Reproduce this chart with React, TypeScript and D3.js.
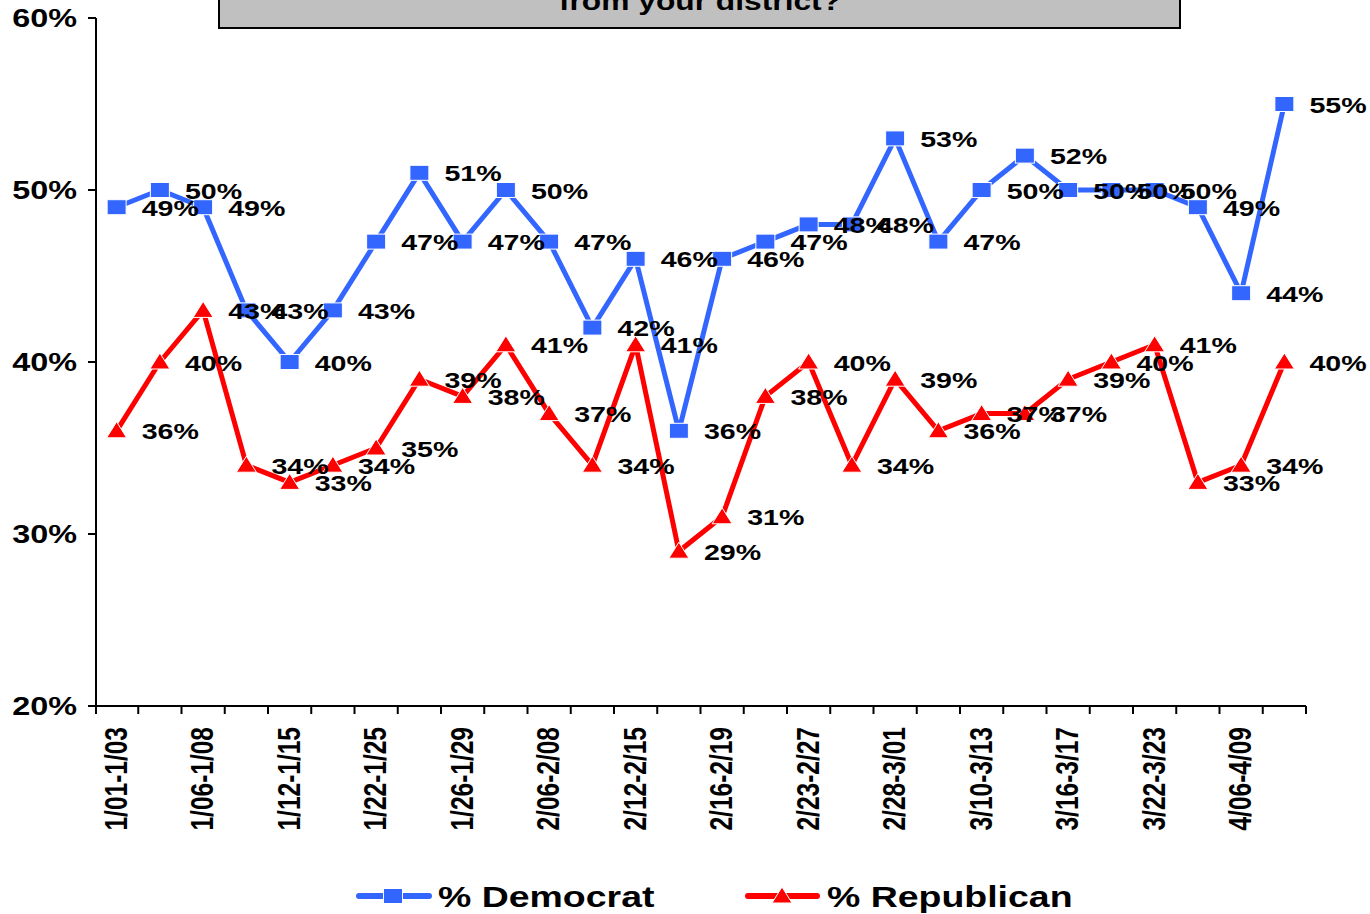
import React from 'react';
import * as d3 from 'd3';

const tickLabels = ["1/01-1/03", "1/06-1/08", "1/12-1/15", "1/22-1/25", "1/26-1/29", "2/06-2/08", "2/12-2/15", "2/16-2/19", "2/23-2/27", "2/28-3/01", "3/10-3/13", "3/16-3/17", "3/22-3/23", "4/06-4/09"];
const democrat = [49, 50, 49, 43, 40, 43, 47, 51, 47, 50, 47, 42, 46, 36, 46, 47, 48, 48, 53, 47, 50, 52, 50, 50, 50, 49, 44, 55];
const republican = [36, 40, 43, 34, 33, 34, 35, 39, 38, 41, 37, 34, 41, 29, 31, 38, 40, 34, 39, 36, 37, 37, 39, 40, 41, 33, 34, 40];
const yTicks = [20, 30, 40, 50, 60];
const seriesNames = ["% Democrat", "% Republican"];
const titleLine = "from your district?";

const W = 1370, H = 914;
const SX = 1.27;
const FONT = "'Liberation Sans', Arial, Helvetica, sans-serif";
const BLUE = '#3366FF';
const RED = '#FF0000';
const X0 = 95, X1 = 1306, AXIS_X = 96;

export default function App() {
  const n = democrat.length;
  const x = d3.scaleBand<number>().domain(d3.range(n)).range([X0, X1]).paddingInner(0).paddingOuter(0);
  const y = d3.scaleLinear().domain([20, 60]).range([706, 18]);
  const cx = (i: number) => (x(i) as number) + x.bandwidth() / 2;
  const line = d3.line<number>().x((_, i) => cx(i)).y((d) => y(d));

  const square = (px: number, py: number, key: string) => (
    <rect key={key} x={px - 9.5} y={py - 7.5} width={19} height={15} fill={BLUE} stroke="#fff" strokeWidth={1} />
  );
  const tri = (px: number, py: number, key: string) => (
    <path key={key} d={`M${px},${py - 9}L${px + 10},${py + 7}L${px - 10},${py + 7}Z`} fill={RED} stroke="#fff" strokeWidth={1} />
  );

  const label = (px: number, py: number, v: number, key: string) => (
    <text key={key} transform={`translate(${px + 25},${py + 8.5}) scale(${SX},1)`} fontSize={22.5} fontWeight="bold" fontFamily={FONT} fill="#000">{`${v}%`}</text>
  );

  const boundaries = d3.range(n + 1).map((i) => (i === 0 ? AXIS_X : X0 + i * x.step()));

  return (
    <svg width={W} height={H} style={{ position: 'absolute', left: 0, top: 0, background: '#fff' }}>
      <rect x={0} y={0} width={W} height={H} fill="#fff" />
      {/* title box */}
      <rect x={219} y={-60} width={961} height={88} fill="#C0C0C0" stroke="#000" strokeWidth={2} />
      <text transform={`translate(700,10) scale(${SX},1)`} textAnchor="middle" fontSize={25} fontWeight="bold" fontFamily={FONT} fill="#000">{titleLine}</text>

      {/* axes */}
      <line x1={AXIS_X} x2={AXIS_X} y1={y(60)} y2={y(20)} stroke="#000" strokeWidth={2} />
      <line x1={AXIS_X - 1} x2={X1} y1={706} y2={706} stroke="#000" strokeWidth={2} />
      {yTicks.map((t) => (
        <g key={`yt${t}`}>
          <line x1={88} x2={AXIS_X} y1={y(t)} y2={y(t)} stroke="#000" strokeWidth={2} />
          <text transform={`translate(77,${y(t) + 9}) scale(${SX},1)`} textAnchor="end" fontSize={25.5} fontWeight="bold" fontFamily={FONT}>{`${t}%`}</text>
        </g>
      ))}
      {boundaries.map((bx, i) => (
        <line key={`xt${i}`} x1={bx} x2={bx} y1={706} y2={714} stroke="#000" strokeWidth={2} />
      ))}
      {tickLabels.map((t, k) => {
        const i = k * 2;
        return (
          <text key={`xl${k}`} transform={`translate(${cx(i) + 10},727) scale(${SX},1) rotate(-90)`} textAnchor="end" fontSize={24.5} fontWeight="bold" fontFamily={FONT}>{t}</text>
        );
      })}

      {/* series */}
      <path d={line(democrat) || ''} fill="none" stroke={BLUE} strokeWidth={5} strokeLinejoin="round" />
      {democrat.map((d, i) => square(cx(i), y(d), `dm${i}`))}
      <path d={line(republican) || ''} fill="none" stroke={RED} strokeWidth={5} strokeLinejoin="round" />
      {republican.map((d, i) => tri(cx(i), y(d), `rm${i}`))}

      {democrat.map((d, i) => label(cx(i), y(d), d, `dl${i}`))}
      {republican.map((d, i) => label(cx(i), y(d), d, `rl${i}`))}

      {/* legend */}
      <line x1={359} x2={429} y1={896} y2={896} stroke={BLUE} strokeWidth={6} strokeLinecap="round" />
      {square(393, 896, 'lg1')}
      <text transform={`translate(438,907) scale(${SX},1)`} fontSize={29.5} fontWeight="bold" fontFamily={FONT}>{seriesNames[0]}</text>
      <line x1={748} x2={817} y1={896} y2={896} stroke={RED} strokeWidth={6} strokeLinecap="round" />
      {tri(782, 896, 'lg2')}
      <text transform={`translate(827,907) scale(${SX},1)`} fontSize={29.5} fontWeight="bold" fontFamily={FONT}>{seriesNames[1]}</text>
    </svg>
  );
}
